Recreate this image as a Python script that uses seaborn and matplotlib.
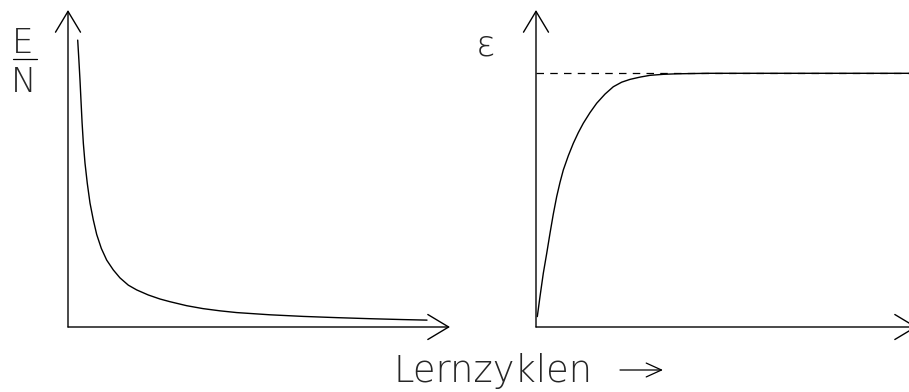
import matplotlib
matplotlib.use("Agg")
import matplotlib.pyplot as plt
from matplotlib import font_manager as fm
import pandas as pd
import seaborn as sns

# Normalised error E/N over the learning cycles (relative units, 0..100)
err_cycles = [2.54, 2.85, 3.14, 3.41, 3.69, 4.02, 4.45, 5.05, 5.76, 6.62,
              7.51, 8.72, 10.13, 11.86, 13.60, 15.79, 17.98, 21.02, 24.08,
              26.70, 31.07, 35.34, 39.79, 44.16, 52.88, 61.60, 70.42, 79.06,
              87.70, 93.98]
err_values = [90.5, 84.2, 77.9, 71.2, 64.4, 57.9, 51.7, 45.3, 39.1, 33.8,
              29.2, 24.8, 21.1, 18.0, 15.5, 13.2, 11.7, 10.1, 8.83,
              7.98, 6.72, 5.80, 5.10, 4.55, 3.85, 3.34, 2.95, 2.62,
              2.34, 2.17]

# Performance epsilon over the learning cycles, approaching its limit
eps_cycles = [0.34, 1.05, 1.92, 2.81, 3.67, 4.54, 5.43, 6.30, 7.17, 8.48,
              9.79, 11.10, 12.41, 14.17, 15.93, 18.11, 20.29, 22.49, 24.67,
              27.30, 29.92, 33.41, 36.93, 45.0, 100.0]
eps_values = [0.041, 0.120, 0.212, 0.290, 0.369, 0.445, 0.514, 0.570, 0.619,
              0.675, 0.724, 0.766, 0.803, 0.845, 0.882, 0.918, 0.947, 0.965,
              0.976, 0.985, 0.992, 0.996, 0.998, 1.0, 1.0]
eps_limit = 1.0

x_label = "Lernzyklen"
err_label = ("E", "N")
eps_label = "ε"

sns.set_theme(style="white")

# thin stroke font: DejaVu Sans ExtraLight if present, otherwise Lato Light
weights = {(f.name, f.weight) for f in fm.fontManager.ttflist}
if any(n == "DejaVu Sans" and w in (200, "200", "ultralight", "extra-light")
       for n, w in weights):
    FAM, WT = "DejaVu Sans", 200
elif any(n == "Lato" for n, _ in weights):
    FAM, WT = "Lato", 300
else:
    FAM, WT = "DejaVu Sans", "normal"
plt.rcParams["font.family"] = [FAM, "DejaVu Sans"]

W, H = 909, 392
fig = plt.figure(figsize=(W / 100, H / 100), dpi=100)
fig.patch.set_facecolor("white")


def px_box(x0, y_base, x1, y_top):
    return [x0 / W, (H - y_base) / H, (x1 - x0) / W, (y_base - y_top) / H]


ax_err = fig.add_axes(px_box(68, 327, 450, 10))
ax_eps = fig.add_axes(px_box(536, 327, 917, 10))

err_df = pd.DataFrame({"cycles": err_cycles, "error": err_values})
eps_df = pd.DataFrame({"cycles": eps_cycles, "eps": eps_values})

sns.lineplot(data=err_df, x="cycles", y="error", ax=ax_err, color="black",
             lw=1.0, estimator=None, sort=False)
sns.lineplot(data=eps_df, x="cycles", y="eps", ax=ax_eps, color="black",
             lw=1.0, estimator=None, sort=False)
ax_eps.axhline(eps_limit, color="black", lw=0.9, ls=(0, (6, 5)))

ax_err.set_xlim(0, 100)
ax_err.set_ylim(0, 100)
ax_eps.set_xlim(0, 100)
ax_eps.set_ylim(0, (327 - 10) / (327 - 73.3))

arrow_kw = dict(arrowstyle="->,head_length=1.5,head_width=0.9",
                color="black", lw=1.0, shrinkA=0, shrinkB=0,
                mutation_scale=10)
for ax in (ax_err, ax_eps):
    ax.set_facecolor("none")
    for s in ax.spines.values():
        s.set_visible(False)
    ax.set_xticks([])
    ax.set_yticks([])
    ax.set_xlabel("")
    ax.set_ylabel("")
    ax.annotate("", xy=(0, 1), xytext=(0, 0), xycoords="axes fraction",
                textcoords="axes fraction", arrowprops=arrow_kw,
                annotation_clip=False)
    ax.annotate("", xy=(1, 0), xytext=(0, 0), xycoords="axes fraction",
                textcoords="axes fraction", arrowprops=arrow_kw,
                annotation_clip=False)

# overlay in pixel units for the axis titles
ov = fig.add_axes([0, 0, 1, 1], zorder=5)
ov.set_xlim(0, W)
ov.set_ylim(H, 0)
ov.axis("off")
ov.patch.set_alpha(0)

ov.text(12, 53, err_label[0], fontsize=24.5, fontweight=WT, ha="left",
        va="baseline")
ov.plot([13, 37], [59, 59], color="black", lw=0.9)
ov.text(11, 92, err_label[1], fontsize=24.5, fontweight=WT, ha="left",
        va="baseline")
ov.text(476, 55, eps_label, fontsize=26, fontweight=WT, ha="left",
        va="baseline")

ov.text(394, 382, x_label, fontsize=26.5, fontweight=WT, ha="left",
        va="baseline")
ov.annotate("", xy=(663, 370), xytext=(620, 370), xycoords="data",
            arrowprops=dict(arrowstyle="->,head_length=1.1,head_width=0.5",
                            color="black", lw=0.9, shrinkA=0, shrinkB=0,
                            mutation_scale=10))

fig.savefig("out.png", dpi=100, facecolor="white")
